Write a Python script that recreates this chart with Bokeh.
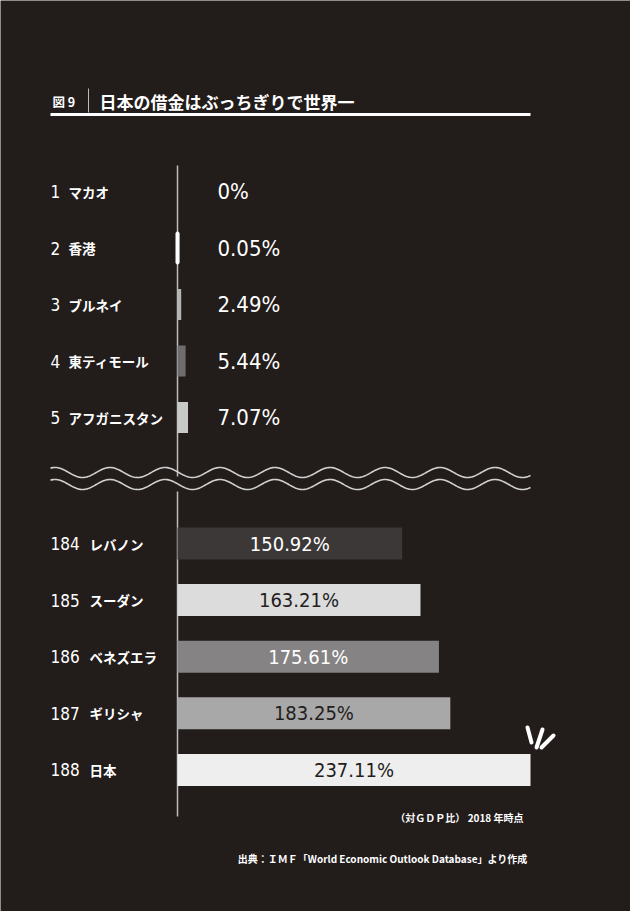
import numpy as np
from bokeh.plotting import figure
from bokeh.models import Range1d, ColumnDataSource
from bokeh.core.properties import value
from bokeh.embed import file_html
from bokeh.resources import INLINE

# ---- data ----
top_ranks = ["1", "2", "3", "4", "5"]
top_names = ["マカオ", "香港", "ブルネイ", "東ティモール", "アフガニスタン"]
top_values = [0.0, 0.05, 2.49, 5.44, 7.07]
top_labels = ["0%", "0.05%", "2.49%", "5.44%", "7.07%"]

bot_ranks = ["184", "185", "186", "187", "188"]
bot_names = ["レバノン", "スーダン", "ベネズエラ", "ギリシャ", "日本"]
bot_values = [150.92, 163.21, 175.61, 183.25, 237.11]
bot_labels = ["150.92%", "163.21%", "175.61%", "183.25%", "237.11%"]

title_num = "図 9"
title_text = "日本の借金はぶっちぎりで世界一"
note_text = "（対ＧＤＰ比） 2018 年時点"
source_text = "出典：ＩＭＦ「World Economic Outlook Database」より作成"

# ---- styles / layout ----
BG = "#221c1b"
top_colors = ["#ffffff", "#ffffff", "#b4b4b4", "#6e6c6c", "#c8c8c8"]
bot_colors = ["#3c3838", "#dcdcdc", "#858383", "#a9a8a8", "#eeeeee"]
bot_text_colors = ["#ffffff", "#231d1c", "#ffffff", "#231d1c", "#231d1c"]

JP = value("Noto Sans CJK JP")
NUM = value("'DejaVu Sans Condensed', 'Liberation Sans Narrow', Roboto, sans-serif")

W, H = 630, 911
X0 = 177.0          # pixel position of zero
SCALE = 353.0 / 237.11  # pixels per percentage point


def vx(px):
    # page pixel -> value units
    return (px - X0) / SCALE


p = figure(width=W, height=H, output_backend="svg", toolbar_location=None,
           x_range=Range1d(vx(0), vx(W)), y_range=Range1d(H, 0),
           min_border=0, background_fill_color=BG, border_fill_color=BG,
           outline_line_color=None)
p.axis.visible = False
p.grid.visible = False

top_y = [191 + 56.5 * i for i in range(5)]
bot_y = [543 + 56.6 * i for i in range(5)]

# ---- title ----
p.text(x=[vx(52)], y=[101], text=[title_num], text_font=JP, text_font_style="bold",
       text_font_size="12.5px", text_color="#ffffff", text_baseline="middle")
p.segment(x0=[vx(88)], y0=[88], x1=[vx(88)], y1=[112], line_color="#bbbbbb", line_width=1)
p.text(x=[vx(99)], y=[101], text=[title_text], text_font=JP, text_font_style="bold",
       text_font_size="17px", text_color="#ffffff", text_baseline="middle")
p.segment(x0=[vx(50)], y0=[114], x1=[vx(530)], y1=[114], line_color="#ffffff", line_width=3)

# ---- baseline ----
p.segment(x0=[0, 0], y0=[165, 491], x1=[0, 0], y1=[476, 816], line_color="#bdbdbd", line_width=1.5)

# ---- top bars ----
ts = ColumnDataSource(dict(y=top_y, v=top_values, c=top_colors, r=top_ranks,
                           n=top_names, l=top_labels))
p.hbar(y="y", left=0, right="v", height=31, fill_color="c", line_color=None, source=ts)
# tiny value (0.05) is drawn with a minimum visible stroke
p.hbar(y=[top_y[1]], left=0, right=[top_values[1]], height=30, fill_color=top_colors[1],
       line_color=top_colors[1], line_width=4)
p.text(x=vx(50), y="y", text="r", source=ts, text_font=NUM, text_font_size="17px",
       text_color="#ffffff", text_baseline="middle")
p.text(x=vx(68), y="y", text="n", source=ts, text_font=JP, text_font_style="bold",
       text_font_size="13.5px", text_color="#ffffff", text_baseline="middle")
p.text(x=vx(217), y="y", text="l", source=ts, text_font=NUM, text_font_size="22px",
       text_color="#ffffff", text_baseline="middle")

# ---- wave break ----
xs_px = np.linspace(50, 530, 400)
phase = 2 * np.pi * (xs_px - 82) / 55.0
for yc in (472, 484):
    p.line(x=vx(xs_px), y=yc + 5 * np.cos(phase), line_color="#d0d0d0", line_width=1.6)

# ---- bottom bars ----
bs = ColumnDataSource(dict(y=bot_y, v=bot_values, c=bot_colors, r=bot_ranks,
                           n=bot_names, l=bot_labels, tc=bot_text_colors,
                           mid=[v / 2 for v in bot_values]))
p.hbar(y="y", left=0, right="v", height=32, fill_color="c", line_color=None, source=bs)
p.text(x=vx(50), y="y", text="r", source=bs, text_font=NUM, text_font_size="17px",
       text_color="#ffffff", text_baseline="middle")
p.text(x=vx(89), y="y", text="n", source=bs, text_font=JP, text_font_style="bold",
       text_font_size="13.5px", text_color="#ffffff", text_baseline="middle")
p.text(x="mid", y="y", text="l", source=bs, text_font=NUM, text_font_size="20px",
       text_color="tc", text_align="center", text_baseline="middle")

# ---- burst accent ----
p.segment(x0=[vx(527), vx(542), vx(553)], y0=[727, 729, 735],
          x1=[vx(531), vx(536), vx(541)], y1=[742, 747, 747],
          line_color="#ffffff", line_width=4, line_cap="round")

# ---- notes ----
p.text(x=[vx(523)], y=[817], text=[note_text], text_font=JP, text_font_style="bold",
       text_font_size="10px", text_color="#ffffff", text_align="right", text_baseline="middle")
p.text(x=[vx(527)], y=[858], text=[source_text], text_font=JP, text_font_style="bold",
       text_font_size="10px", text_color="#ffffff", text_align="right", text_baseline="middle")

open("out.html", "w").write(file_html(p, INLINE))
